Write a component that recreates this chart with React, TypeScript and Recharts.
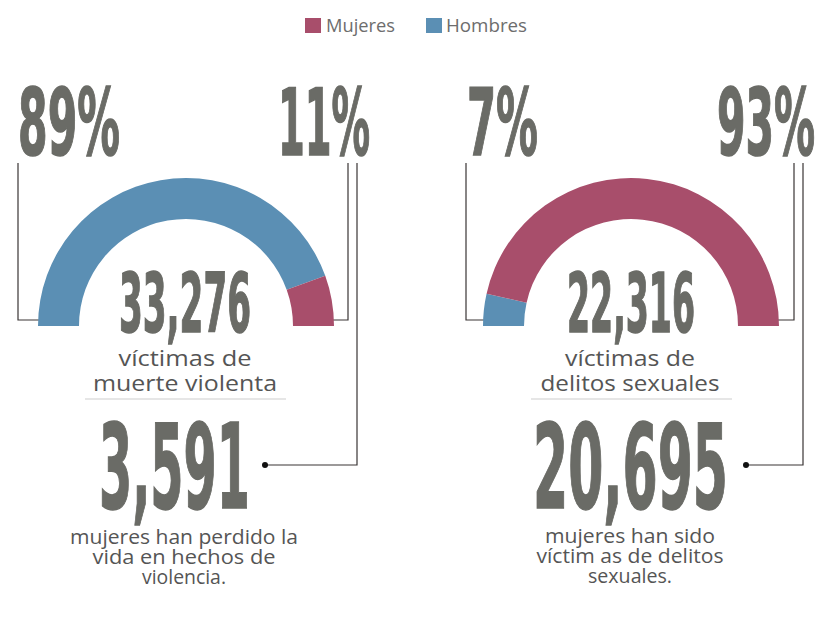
import { PieChart, Pie, Cell } from "recharts"

const sexes = ["Hombres", "Mujeres"]
const sexColors = ["#5b8fb4", "#a84e6b"]
const muerteViolentaPct = [89, 11]
const delitosSexualesPct = [7, 93]
const totalVictimas = ["33,276", "22,316"]
const mujeresVictimas = ["3,591", "20,695"]

const muerteData = sexes.map((name, i) => ({ name, value: muerteViolentaPct[i] }))
const delitosData = sexes.map((name, i) => ({ name, value: delitosSexualesPct[i] }))

const GRAY = "#6a6b66"
const TEXT = "#555555"
const LINE = "#3a3535"

const bigFont = "'DejaVu Sans Condensed', 'Liberation Sans Narrow', 'DejaVu Sans', sans-serif"
const bodyFont = "'Open Sans', 'Noto Sans', sans-serif"

function Big({ x, y, w, size, text }: { x: number; y: number; w: number; size: number; text: string }) {
  return (
    <text
      x={x}
      y={y}
      fontFamily={bigFont}
      fontWeight={700}
      fontSize={size}
      fill={GRAY}
      stroke={GRAY}
      strokeWidth={1.5}
      textLength={w}
      lengthAdjust="spacingAndGlyphs"
    >
      {text}
    </text>
  )
}

// centred lines of body text, each squeezed/stretched to the width seen in the reference
function Lines({ x, y, lines, widths, size }: { x: number; y: number; lines: string[]; widths: number[]; size: number }) {
  return (
    <g>
      {lines.map((l, i) => (
        <text
          key={i}
          x={x - widths[i] / 2}
          y={y + i * (size === 22 ? 25 : 20)}
          fontFamily={bodyFont}
          fontSize={size}
          fill={TEXT}
          textLength={widths[i]}
          lengthAdjust="spacingAndGlyphs"
        >
          {l}
        </text>
      ))}
    </g>
  )
}

function Leader({ points, dot }: { points: string; dot: [number, number] }) {
  return (
    <g>
      <polyline points={points} fill="none" stroke={LINE} strokeWidth={1.2} />
      <circle cx={dot[0]} cy={dot[1]} r={3} fill="#111" />
    </g>
  )
}

export default function App() {
  const pieProps = {
    dataKey: "value",
    nameKey: "name",
    startAngle: 180,
    endAngle: 0,
    innerRadius: 107,
    outerRadius: 148,
    stroke: "none",
    isAnimationActive: false,
    cy: 326,
  }
  return (
    <div style={{ position: "absolute", left: 0, top: 0, width: 821, height: 629, background: "#fff" }}>
      <PieChart width={821} height={629} margin={{ top: 0, right: 0, bottom: 0, left: 0 }}>
        <Pie data={muerteData} cx={186} {...pieProps}>
          {muerteData.map((d, i) => (
            <Cell key={d.name} fill={sexColors[i]} />
          ))}
        </Pie>
        <Pie data={delitosData} cx={631} {...pieProps}>
          {delitosData.map((d, i) => (
            <Cell key={d.name} fill={sexColors[i]} />
          ))}
        </Pie>

        {/* legend */}
        <g>
          <rect x={305} y={18} width={16} height={15} fill={sexColors[1]} />
          <text x={326} y={32} fontFamily={bodyFont} fontSize={19} fill="#6d6d6d" textLength={69} lengthAdjust="spacingAndGlyphs">{sexes[1]}</text>
          <rect x={426} y={18} width={16} height={15} fill={sexColors[0]} />
          <text x={446} y={32} fontFamily={bodyFont} fontSize={19} fill="#6d6d6d" textLength={81} lengthAdjust="spacingAndGlyphs">{sexes[0]}</text>
        </g>

        {/* percentages */}
        <Big x={18} y={155} w={102} size={92} text={`${muerteViolentaPct[0]}%`} />
        <Big x={278} y={155} w={92} size={92} text={`${muerteViolentaPct[1]}%`} />
        <Big x={467} y={155} w={71} size={92} text={`${delitosSexualesPct[0]}%`} />
        <Big x={717} y={155} w={98} size={92} text={`${delitosSexualesPct[1]}%`} />

        {/* leaders */}
        <Leader points="18,163 18,320 56,320" dot={[56, 320]} />
        <Leader points="348,163 348,320 310,320" dot={[310, 320]} />
        <Leader points="357,163 357,465 265,465" dot={[265, 465]} />
        <Leader points="466,163 466,320 504,320" dot={[504, 320]} />
        <Leader points="794,163 794,320 756,320" dot={[756, 320]} />
        <Leader points="803,163 803,465 746,465" dot={[746, 465]} />

        {/* totals */}
        <Big x={119} y={332} w={132} size={82} text={totalVictimas[0]} />
        <Big x={567} y={332} w={128} size={82} text={totalVictimas[1]} />
        <Lines x={185} y={366} size={22} lines={["víctimas de", "muerte violenta"]} widths={[133, 184]} />
        <Lines x={630} y={366} size={22} lines={["víctimas de", "delitos sexuales"]} widths={[130, 179]} />
        <rect x={85} y={398} width={201} height={2} fill="#e6e6e6" />
        <rect x={531} y={398} width={201} height={2} fill="#e6e6e6" />

        {/* women */}
        <Big x={99} y={508} w={151} size={118} text={mujeresVictimas[0]} />
        <Big x={533} y={508} w={195} size={118} text={mujeresVictimas[1]} />
        <Lines x={184} y={544} size={20} lines={["mujeres han perdido la", "vida en hechos de", "violencia."]} widths={[228, 183, 84]} />
        <Lines x={630} y={543} size={20} lines={["mujeres han sido", "víctim as de delitos", "sexuales."]} widths={[170, 187, 84]} />
      </PieChart>
    </div>
  )
}
